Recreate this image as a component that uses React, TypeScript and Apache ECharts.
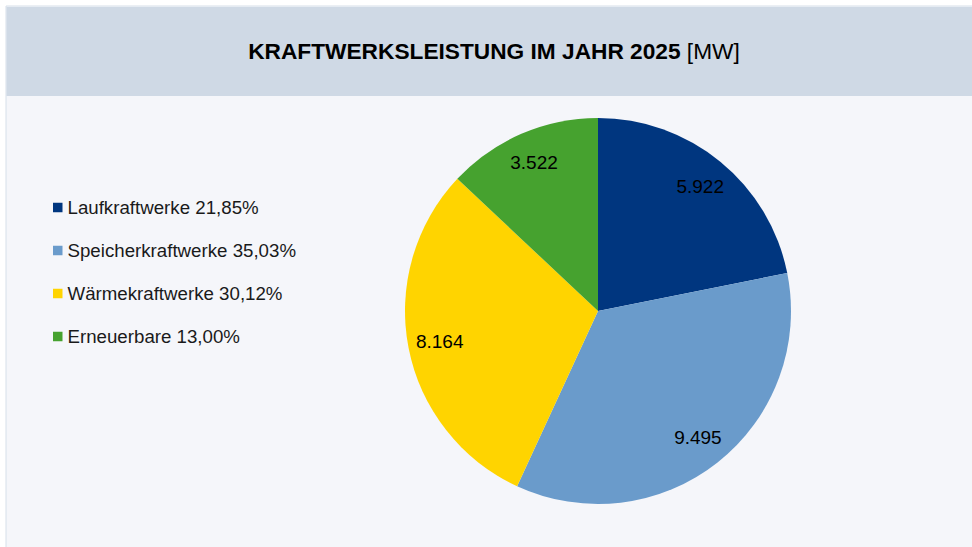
import React, { useEffect, useRef } from "react";
import * as echarts from "echarts";

const categories = ["Laufkraftwerke", "Speicherkraftwerke", "Wärmekraftwerke", "Erneuerbare"];
const values = [5922, 9495, 8164, 3522];
const percentLabels = ["21,85%", "35,03%", "30,12%", "13,00%"];
const colors = ["#00367f", "#6a9bcb", "#ffd400", "#46a22f"];
const titleMain = "KRAFTWERKSLEISTUNG IM JAHR 2025";
const titleUnit = " [MW]";

const FONT = "Liberation Sans, Arial, sans-serif";

function fmtThousands(v: number): string {
  return String(v).replace(/\B(?=(\d{3})+(?!\d))/g, ".");
}

export default function App() {
  const ref = useRef<HTMLDivElement>(null);
  useEffect(() => {
    if (!ref.current) return;
    const chart = echarts.init(ref.current, undefined, { renderer: "svg" });
    const pct: Record<string, string> = {};
    categories.forEach((c, i) => {
      pct[c] = percentLabels[i];
    });
    const data = categories.map((c, i) => ({ name: c, value: values[i], itemStyle: { color: colors[i] } }));
    const R = 193;
    const center = [598, 311];
    chart.setOption({
      animation: false,
      backgroundColor: "#ffffff",
      graphic: [
        { type: "rect", shape: { x: 6, y: 6, width: 980, height: 560 }, style: { fill: "#f5f6fa", stroke: "#d6dfe9", lineWidth: 1 }, z: -10 },
        { type: "rect", shape: { x: 6.5, y: 7, width: 980, height: 89 }, style: { fill: "#cfd9e5" }, z: -9 },
        {
          type: "text",
          x: 494,
          y: 51,
          style: {
            text: "{b|" + titleMain + "}{n|" + titleUnit + "}",
            align: "center",
            verticalAlign: "middle",
            rich: {
              b: { fontFamily: FONT, fontSize: 22.7, fontWeight: "bold", fill: "#000000" },
              n: { fontFamily: FONT, fontSize: 22.7, fontWeight: "normal", fill: "#000000" },
            },
          },
        },
      ],
      legend: {
        orient: "vertical",
        left: 48,
        top: 193,
        itemGap: 24,
        itemWidth: 9.5,
        itemHeight: 9.5,
        icon: "rect",
        data: categories,
        formatter: (name: string) => name + " " + pct[name],
        textStyle: { fontFamily: FONT, fontSize: 18.7, color: "#1a1a1a" },
      },
      series: [
        {
          type: "pie",
          center,
          radius: [0, R],
          startAngle: 90,
          clockwise: true,
          label: { show: false },
          labelLine: { show: false },
          itemStyle: { borderWidth: 0 },
          data,
          silent: true,
        },
        {
          type: "pie",
          center,
          radius: [R * 0.64, R],
          startAngle: 90,
          clockwise: true,
          legendHoverLink: false,
          silent: true,
          itemStyle: { color: "rgba(0,0,0,0)", borderWidth: 0 },
          label: {
            show: true,
            position: "inside",
            fontFamily: FONT,
            fontSize: 19,
            color: "#000000",
            formatter: (p: any) => fmtThousands(p.value),
          },
          labelLine: { show: false },
          data: categories.map((c, i) => ({ name: c + " ", value: values[i] })),
        },
      ],
    });
    return () => chart.dispose();
  }, []);
  return <div ref={ref} style={{ position: "fixed", left: 0, top: 0, width: 972, height: 547 }} />;
}
